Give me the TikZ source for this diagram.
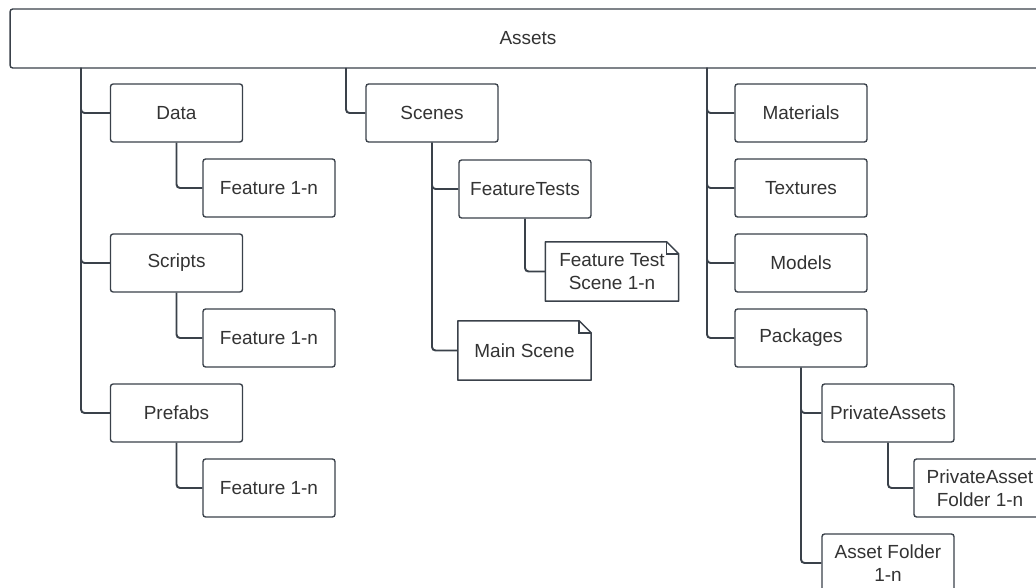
\documentclass[tikz,border=0pt]{standalone}
\usepackage{fontspec}
\setmainfont{Liberation Sans}
\definecolor{edge}{HTML}{3A414A}
\definecolor{ink}{HTML}{333333}

\begin{document}
\begin{tikzpicture}[x=0.02cm,y=-0.02cm,
	box/.style={draw=edge,line width=0.8pt,rounded corners=1.5pt,fill=white,
		minimum width=2.64cm,minimum height=1.16cm,align=center,text=ink,
		font=\fontsize{10.8}{13}\selectfont,inner sep=1pt},
	notebox/.style={box,draw=none},
	link/.style={draw=edge,line width=1.1pt,rounded corners=2pt}]
	\clip (0,0) rectangle (1036,588);
	% folders
	\node[box,minimum width=20.72cm,minimum height=1.18cm] (assets) at (528,38.5) {Assets};
	\node[box] (data) at (176.5,113) {Data};
	\node[box] (feat1) at (269,188) {Feature 1-n};
	\node[box] (scripts) at (176.5,263) {Scripts};
	\node[box] (feat2) at (269,338) {Feature 1-n};
	\node[box] (prefabs) at (176.5,413) {Prefabs};
	\node[box] (feat3) at (269,488) {Feature 1-n};
	\node[box] (scenes) at (432,113) {Scenes};
	\node[box] (ftests) at (525,189) {FeatureTests};
	\node[notebox] (ftscene) at (612,271.5) {Feature Test\\Scene 1-n};
	\node[notebox] (mainscene) at (524.5,350.5) {Main Scene};
	\node[box] (materials) at (801,113) {Materials};
	\node[box] (textures) at (801,188) {Textures};
	\node[box] (models) at (801,263) {Models};
	\node[box] (packages) at (801,338) {Packages};
	\node[box] (privassets) at (888,413) {PrivateAssets};
	\node[box] (pafolder) at (980,488) {PrivateAsset\\Folder 1-n};
	\node[box] (assetfolder) at (888,563) {Asset Folder\\1-n};
	% scene files
	\foreach \n in {ftscene,mainscene}{
		\draw[edge,line width=0.8pt,line join=round] (\n.south west) -- (\n.north west)
			-- ([xshift=-0.24cm]\n.north east) -- ([yshift=-0.24cm]\n.north east)
			-- (\n.south east) -- cycle;
		\draw[edge,line width=0.8pt] ([xshift=-0.24cm]\n.north east)
			|- ([yshift=-0.24cm]\n.north east);
	}
	% tree lines
	\coordinate (tA) at (81,68);
	\coordinate (tB) at (346,68);
	\coordinate (tC) at (707,68);
	\foreach \n in {data,scripts,prefabs}
		\draw[link] (tA) |- (\n.west);
	\draw[link] (tB) |- (scenes.west);
	\foreach \n in {materials,textures,models,packages}
		\draw[link] (tC) |- (\n.west);
	\draw[link] (data.south) |- (feat1.west);
	\draw[link] (scripts.south) |- (feat2.west);
	\draw[link] (prefabs.south) |- (feat3.west);
	\draw[link] (scenes.south) |- (ftests.west);
	\draw[link] (scenes.south) |- (mainscene.west);
	\draw[link] (ftests.south) |- (ftscene.west);
	\draw[link] (packages.south) |- (privassets.west);
	\draw[link] (packages.south) |- (assetfolder.west);
	\draw[link] (privassets.south) |- (pafolder.west);
\end{tikzpicture}
\end{document}
